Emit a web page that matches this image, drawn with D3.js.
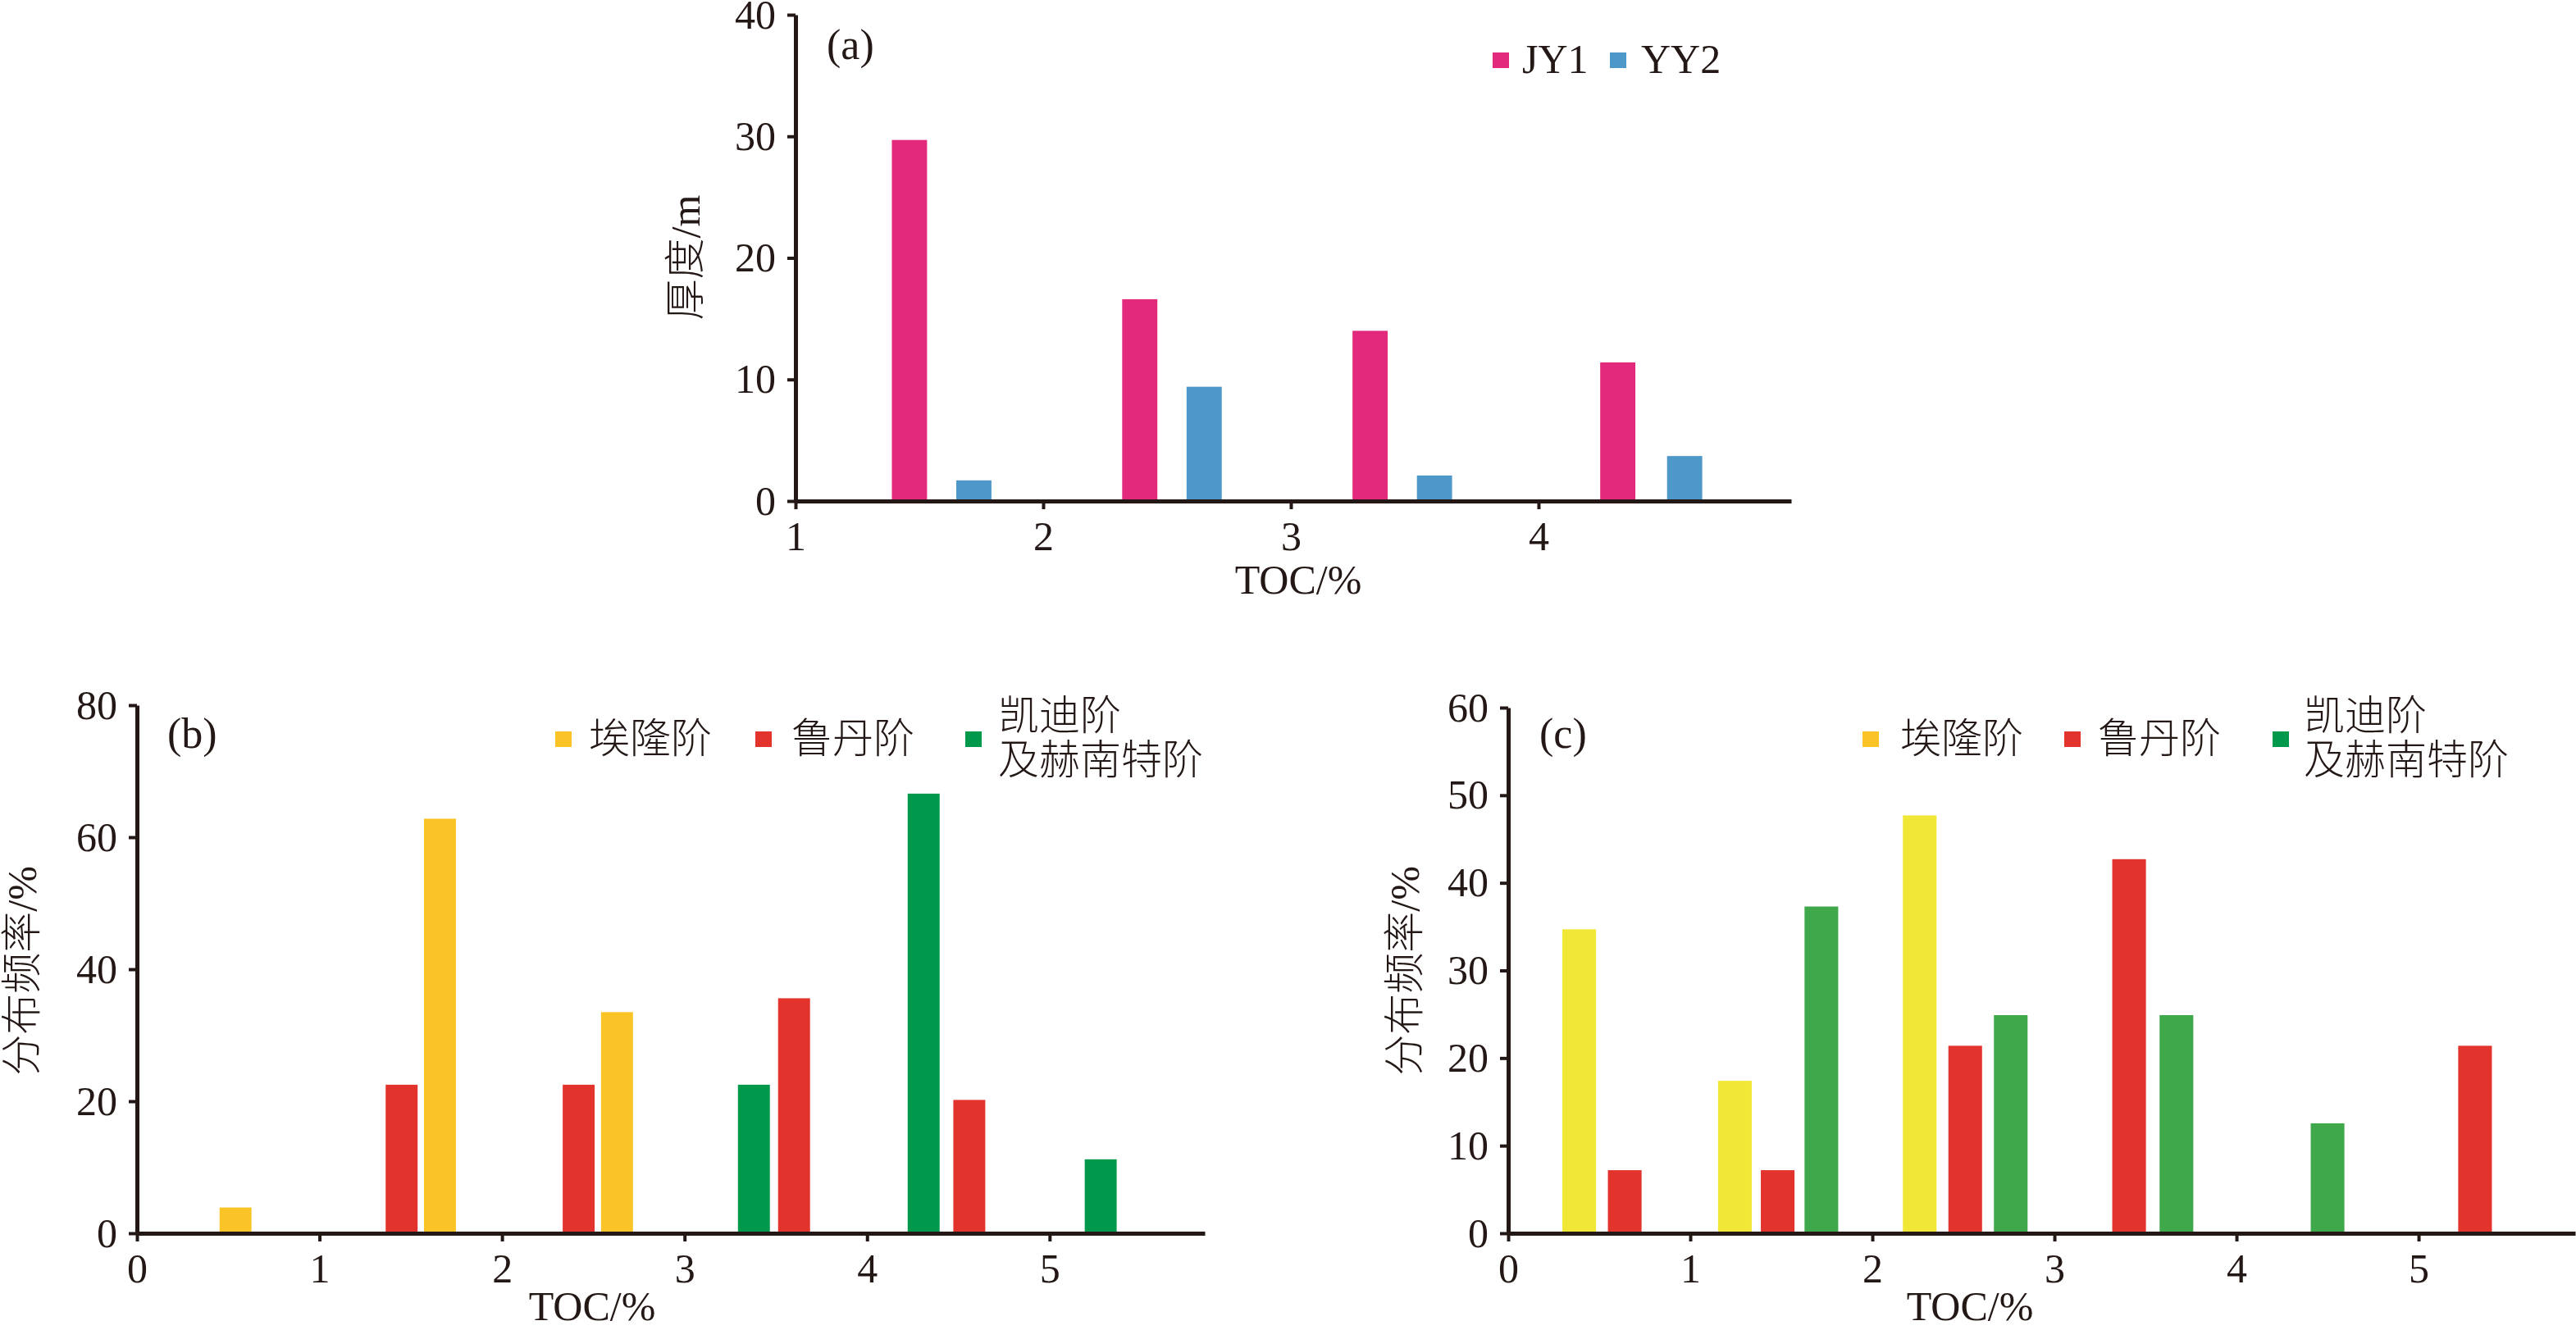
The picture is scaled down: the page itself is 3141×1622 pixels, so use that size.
<!DOCTYPE html>
<html lang="zh">
<head>
<meta charset="UTF-8">
<title>TOC 分布</title>
<script src="https://d3js.org/d3.v7.min.js"></script>
<style>
  body { margin: 0; background: #fff; }
  svg text { font-family: "Liberation Serif", "Times New Roman", "Noto Sans CJK SC", serif; fill: #231815; font-weight: 300; }
</style>
</head>
<body>
<div id="chart"></div>
<script>
// (a) 厚度 vs TOC
const jy1Toc = [1.46, 2.39, 3.32, 4.32];
const jy1Thick = [29.7, 16.6, 14.0, 11.4];
const yy2Toc = [1.72, 2.65, 3.58, 4.59];
const yy2Thick = [1.7, 9.4, 2.1, 3.7];

// (b) 分布频率
const bYilongToc = [0.54, 1.66, 2.63];
const bYilong = [3.9, 62.8, 33.5];
const bRudanToc = [1.45, 2.42, 3.60, 4.56];
const bRudan = [22.5, 22.5, 35.6, 20.2];
const bKaidiToc = [3.38, 4.31, 5.28];
const bKaidi = [22.5, 66.6, 11.2];

// (c) 分布频率
const cYilongToc = [0.39, 1.245, 2.26];
const cYilong = [34.7, 17.4, 47.7];
const cRudanToc = [0.64, 1.48, 2.51, 3.41, 5.31];
const cRudan = [7.2, 7.2, 21.4, 42.7, 21.4];
const cKaidiToc = [1.72, 2.76, 3.67, 4.50];
const cKaidi = [37.3, 24.9, 24.9, 12.55];

// tick labels
const xTicksA = [1, 2, 3, 4];
const yTicksA = [0, 10, 20, 30, 40];
const xTicksBC = [0, 1, 2, 3, 4, 5];
const yTicksB = [0, 20, 40, 60, 80];
const yTicksC = [0, 10, 20, 30, 40, 50, 60];

const wellNames = ["JY1", "YY2"];
const stageNames = ["埃隆阶", "鲁丹阶", ["凯迪阶", "及赫南特阶"]];

const svg = d3.select("#chart").append("svg")
    .attr("width", 3141)
    .attr("height", 1622);

const ink = "#231815";

function panel(cfg) {
    const x = d3.scaleLinear().domain(cfg.xDomain).range([cfg.left, cfg.right]);
    const y = d3.scaleLinear().domain(cfg.yDomain).range([cfg.bottom, cfg.top]);
    const bw = x(cfg.barW) - x(0);

    cfg.series.forEach(s => {
        svg.append("g").selectAll("rect")
            .data(s.toc.map((t, i) => ({t: t, v: s.values[i]})))
            .join("rect")
            .attr("x", d => x(d.t) - bw / 2)
            .attr("y", d => y(d.v))
            .attr("width", bw)
            .attr("height", d => y(0) - y(d.v))
            .attr("fill", s.color);
    });

    const styleAxis = g => {
        g.select(".domain").attr("stroke", ink).attr("stroke-width", 5);
        g.selectAll(".tick line").attr("stroke", ink).attr("stroke-width", 4);
        g.selectAll(".tick text").attr("fill", ink).style("font-size", "50px");
    };

    svg.append("g")
        .attr("transform", `translate(0,${cfg.bottom})`)
        .call(d3.axisBottom(x).tickValues(cfg.xTicks).tickFormat(d3.format("d"))
            .tickSize(10).tickSizeOuter(0).tickPadding(14))
        .call(styleAxis);

    svg.append("g")
        .attr("transform", `translate(${cfg.left},0)`)
        .call(d3.axisLeft(y).tickValues(cfg.yTicks).tickFormat(d3.format("d"))
            .tickSize(10).tickSizeOuter(0).tickPadding(14))
        .call(styleAxis);

    // titles
    svg.append("text")
        .attr("x", cfg.xTitle[0]).attr("y", cfg.xTitle[1])
        .attr("text-anchor", "middle")
        .style("font-size", "50px")
        .text("TOC/%");

    svg.append("text")
        .attr("transform", `translate(${cfg.yTitle[0]},${cfg.yTitle[1]}) rotate(-90)`)
        .attr("text-anchor", "middle")
        .attr("dy", "0.35em")
        .style("font-size", "50px")
        .text(cfg.yLabel);

    svg.append("text")
        .attr("x", cfg.tag[0]).attr("y", cfg.tag[1])
        .style("font-size", "52px")
        .text(cfg.tagText);

    // legend
    cfg.legend.forEach(l => {
        svg.append("rect")
            .attr("x", l.sx).attr("y", cfg.legendY)
            .attr("width", 20).attr("height", 19)
            .attr("fill", l.color);
        const lines = Array.isArray(l.label) ? l.label : [l.label];
        lines.forEach((ln, i) => {
            svg.append("text")
                .attr("x", l.tx)
                .attr("y", lines.length > 1 ? cfg.legendBase - 28 + i * 54 : cfg.legendBase)
                .style("font-size", cfg.legendSize + "px")
                .text(ln);
        });
    });
}

const pink = "#e2297b", blue = "#4e97c9";
const yellowB = "#fbc426", red = "#e2332d", greenB = "#00984a";
const yellowC = "#f1e737", greenC = "#3fa84b";

panel({
    left: 970, right: 2184, top: 18, bottom: 611,
    xDomain: [1, 5.02], yDomain: [0, 40],
    xTicks: xTicksA, yTicks: yTicksA, barW: 0.142,
    series: [
        {toc: jy1Toc, values: jy1Thick, color: pink},
        {toc: yy2Toc, values: yy2Thick, color: blue}
    ],
    xTitle: [1583, 724], yTitle: [835, 314], yLabel: "厚度/m",
    tag: [1008, 72], tagText: "(a)",
    legendY: 64, legendBase: 89, legendSize: 50,
    legend: [
        {sx: 1820, tx: 1856, color: pink, label: wellNames[0]},
        {sx: 1963, tx: 2001, color: blue, label: wellNames[1]}
    ]
});

panel({
    left: 167, right: 1469, top: 860, bottom: 1504,
    xDomain: [0, 5.85], yDomain: [0, 80],
    xTicks: xTicksBC, yTicks: yTicksB, barW: 0.175,
    series: [
        {toc: bYilongToc, values: bYilong, color: yellowB},
        {toc: bRudanToc, values: bRudan, color: red},
        {toc: bKaidiToc, values: bKaidi, color: greenB}
    ],
    xTitle: [722, 1610], yTitle: [26, 1184], yLabel: "分布频率/%",
    tag: [204, 912], tagText: "(b)",
    legendY: 892, legendBase: 918, legendSize: 50,
    legend: [
        {sx: 677, tx: 718, color: yellowB, label: stageNames[0]},
        {sx: 921, tx: 965, color: red, label: stageNames[1]},
        {sx: 1177, tx: 1217, color: greenB, label: stageNames[2]}
    ]
});

panel({
    left: 1839, right: 3140, top: 863, bottom: 1504,
    xDomain: [0, 5.86], yDomain: [0, 60],
    xTicks: xTicksBC, yTicks: yTicksC, barW: 0.185,
    series: [
        {toc: cYilongToc, values: cYilong, color: yellowC},
        {toc: cRudanToc, values: cRudan, color: red},
        {toc: cKaidiToc, values: cKaidi, color: greenC}
    ],
    xTitle: [2402, 1610], yTitle: [1712, 1184], yLabel: "分布频率/%",
    tag: [1877, 912], tagText: "(c)",
    legendY: 892, legendBase: 918, legendSize: 50,
    legend: [
        {sx: 2271, tx: 2317, color: yellowB, label: stageNames[0]},
        {sx: 2517, tx: 2558, color: red, label: stageNames[1]},
        {sx: 2771, tx: 2809, color: greenB, label: stageNames[2]}
    ]
});
</script>
</body>
</html>
